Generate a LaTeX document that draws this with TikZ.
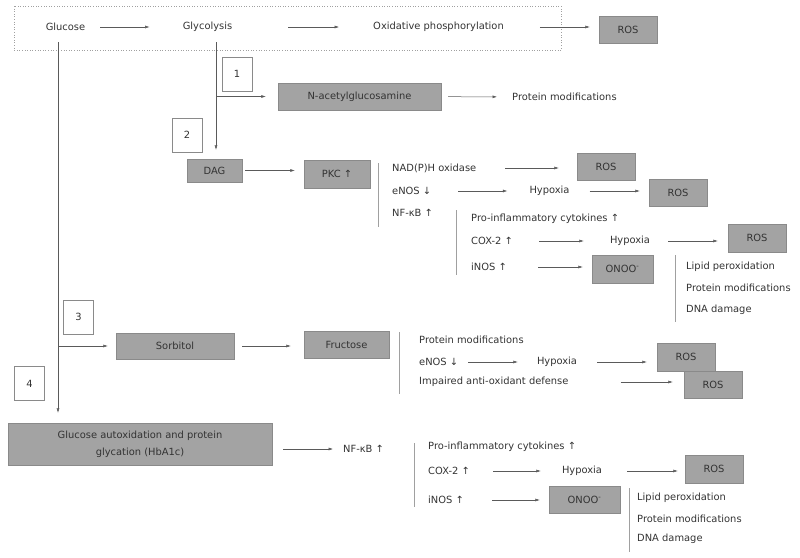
\documentclass[tikz,border=0pt]{standalone}
\usepackage{fontspec}
\setmainfont{DejaVu Sans}
\usetikzlibrary{arrows.meta,calc}
\definecolor{boxfill}{HTML}{A3A3A3}
\definecolor{boxline}{HTML}{8A8A8A}
\definecolor{linegray}{HTML}{5A5A5A}
\definecolor{sepgray}{HTML}{A0A0A0}
\definecolor{txtgray}{HTML}{333333}

\begin{document}
\begin{tikzpicture}[x=1pt, y=-1pt,
    every node/.style={font=\fontsize{9.9}{12}\selectfont, text=txtgray, inner sep=0pt},
    gbox/.style={rectangle, draw=boxline, fill=boxfill, minimum height=27pt},
    numbox/.style={rectangle, draw=boxline, fill=white, minimum width=30pt, minimum height=34pt},
    arr/.style={-{Latex[length=4.5pt,width=3pt]}, draw=linegray, line width=.5pt},
    sep/.style={draw=sepgray, line width=.6pt}]
  \useasboundingbox (0,0) rectangle (800,557);
  \draw[dotted, draw=sepgray, line width=.6pt] (14,6) rectangle (561,50);

  \node (glu) at (65.5,27) {Glucose};
  \node (gly) at (207.5,27) {Glycolysis};
  \node (oxp) at (438.5,27) {Oxidative phosphorylation};
  \node (ros0) at (628,29.5) [gbox, minimum width=58pt] {ROS};
  \coordinate (gluv) at (58,42);
  \coordinate (glyv) at (216,42);

  % 1
  \node (n1) at (237,74) [numbox] {1};
  \node (nag) at (359.5,96.5) [gbox, minimum width=163pt] {N-acetylglucosamine};
  \node (pm1) at (512,97) [anchor=west] {Protein modifications};

  % 2
  \node (n2) at (187,135) [numbox] {2};
  \node (dag) at (214.5,170.5) [gbox, minimum width=55pt, minimum height=23pt] {DAG};
  \node (pkc) at (337,174) [gbox, minimum width=66pt, minimum height=28pt] {PKC ↑};
  \node (nadph) at (392,168) [anchor=west] {NAD(P)H oxidase};
  \node (enos1) at (392,191) [anchor=west] {eNOS ↓};
  \node (nfkb1) at (392,213) [anchor=west] {NF-κB ↑};
  \node (ros1) at (606,166.5) [gbox, minimum width=58pt] {ROS};
  \node (hyp1) at (549.5,191) {Hypoxia};
  \node (ros2) at (678,192.5) [gbox, minimum width=58pt] {ROS};
  \node (pic1) at (471,219) [anchor=west] {Pro-inflammatory cytokines ↑};
  \node (cox1) at (471,241) [anchor=west] {COX-2 ↑};
  \node (inos1) at (471,267) [anchor=west] {iNOS ↑};
  \node (hyp2) at (630,241) {Hypoxia};
  \node (ros3) at (757,238) [gbox, minimum width=58pt, minimum height=28pt] {ROS};
  \node (onoo1) at (622.5,269) [gbox, minimum width=61pt, minimum height=28pt] {ONOO\textsuperscript{-}};
  \node (lip1) at (686,267) [anchor=west] {Lipid peroxidation};
  \node (prm1) at (686,288) [anchor=west] {Protein modifications};
  \node (dna1) at (686,310) [anchor=west] {DNA damage};

  % 3
  \node (n3) at (78.5,317) [numbox] {3};
  \node (sorb) at (175,346) [gbox, minimum width=118pt, minimum height=26pt] {Sorbitol};
  \node (fruc) at (346.5,344.5) [gbox, minimum width=85pt] {Fructose};
  \node (pm3) at (419,340) [anchor=west] {Protein modifications};
  \node (enos3) at (419,362) [anchor=west] {eNOS ↓};
  \node (imp3) at (419,382) [anchor=west] {Impaired anti-oxidant defense};
  \node (hyp3) at (557,362) {Hypoxia};
  \node (ros4) at (686,357) [gbox, minimum width=58pt, minimum height=28pt] {ROS};
  \node (ros5) at (713,384.5) [gbox, minimum width=58pt] {ROS};

  % 4
  \node (n4) at (29.5,383.5) [numbox] {4};
  \node (big) at (140,444) [gbox, minimum width=264pt, minimum height=42pt, align=center,
    font=\fontsize{9.9}{17}\selectfont] {Glucose autoxidation and protein\\glycation (HbA1c)};
  \node (nfkb4) at (343,449) [anchor=west] {NF-κB ↑};
  \node (pic4) at (428,447) [anchor=west] {Pro-inflammatory cytokines ↑};
  \node (cox4) at (428,471) [anchor=west] {COX-2 ↑};
  \node (inos4) at (428,500) [anchor=west] {iNOS ↑};
  \node (hyp4) at (582,471) {Hypoxia};
  \node (ros6) at (714,469) [gbox, minimum width=58pt, minimum height=28pt] {ROS};
  \node (onoo4) at (584.5,499.5) [gbox, minimum width=71pt] {ONOO\textsuperscript{-}};
  \node (lip4) at (637,498) [anchor=west] {Lipid peroxidation};
  \node (prm4) at (637,519) [anchor=west] {Protein modifications};
  \node (dna4) at (637,539) [anchor=west] {DNA damage};

  \draw[arr, shorten <=15pt, shorten >=33pt] (glu) -- (gly);
  \draw[arr, shorten <=56pt, shorten >=34pt] (gly) -- (oxp);
  \draw[arr, shorten <=36pt, shorten >=9pt] (oxp) -- (oxp -| ros0.west);
  \draw[arr, shorten >=10pt] (gluv) -- (gluv |- big.north);
  \draw[arr, shorten >=8pt] (gluv |- sorb) -- (sorb);
  \draw[arr, shorten >=9pt] (glyv) -- (glyv |- dag.north);
  \draw[arr, shorten >=12pt] (glyv |- nag) -- (nag);
  \draw[arr, shorten <=7pt, shorten >=15pt] (nag) -- (pm1);
  \draw[arr, shorten <=3pt, shorten >=9pt] (dag) -- (dag -| pkc.west);
  \draw[arr, shorten <=29pt, shorten >=18pt] (nadph) -- (nadph -| ros1.west);
  \draw[arr, shorten <=27pt, shorten >=22pt] (enos1) -- (hyp1);
  \draw[arr, shorten <=20pt, shorten >=9pt] (hyp1) -- (hyp1 -| ros2.west);
  \draw[arr, shorten <=26pt, shorten >=26pt] (cox1) -- (hyp2);
  \draw[arr, shorten <=18pt, shorten >=10pt] (hyp2) -- (hyp2 -| ros3.west);
  \draw[arr, shorten <=31pt, shorten >=9pt] (inos1) -- (inos1 -| onoo1.west);
  \draw[arr, shorten <=8pt, shorten >=13pt] (sorb) -- (sorb -| fruc.west);
  \draw[arr, shorten <=10pt, shorten >=19pt] (enos3) -- (hyp3);
  \draw[arr, shorten <=20pt, shorten >=10pt] (hyp3) -- (hyp3 -| ros4.west);
  \draw[arr, shorten <=52pt, shorten >=11pt] (imp3) -- (imp3 -| ros5.west);
  \draw[arr, shorten <=11pt, shorten >=10pt] (nfkb4 -| big.east) -- (nfkb4);
  \draw[arr, shorten <=23pt, shorten >=21pt] (cox4) -- (hyp4);
  \draw[arr, shorten <=25pt, shorten >=7pt] (hyp4) -- (hyp4 -| ros6.west);
  \draw[arr, shorten <=28pt, shorten >=9pt] (inos4) -- (inos4 -| onoo4.west);

  \draw[sep] (378,163) -- (378,227);
  \draw[sep] (456,210) -- (456,275);
  \draw[sep] (675,255) -- (675,322);
  \draw[sep] (399,332) -- (399,394);
  \draw[sep] (414,443) -- (414,507);
  \draw[sep] (629,488) -- (629,552);
\end{tikzpicture}
\end{document}
